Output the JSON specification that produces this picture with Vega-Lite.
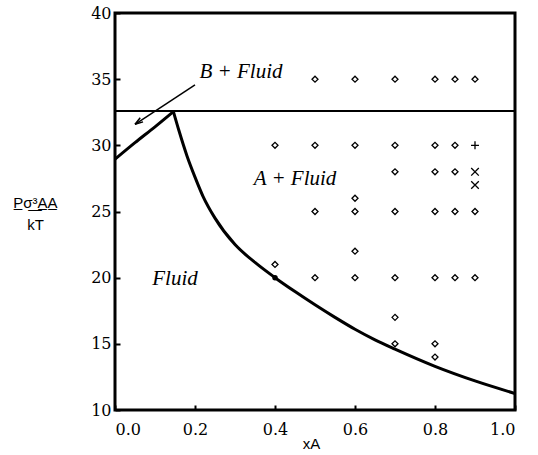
{
  "$schema": "https://vega.github.io/schema/vega-lite/v6.json",
  "width": 400,
  "height": 397,
  "autosize": {"type": "none"},
  "padding": {"left": 115, "top": 13, "right": 23, "bottom": 45},
  "background": "white",
  "config": {
    "view": {"stroke": "black", "strokeWidth": 3},
    "axis": {
      "grid": false,
      "domain": false,
      "labelFont": "DejaVu Serif",
      "labelFontSize": 16,
      "labelColor": "black",
      "tickColor": "black",
      "tickWidth": 2,
      "tickSize": -5,
      "titleColor": "black",
      "titleFontWeight": "normal"
    }
  },
  "datasets": {
    "curve": [
      {"x": 0.0, "y": 28.95, "seg": "left"},
      {"x": 0.05, "y": 30.2, "seg": "left"},
      {"x": 0.1, "y": 31.4, "seg": "left"},
      {"x": 0.146, "y": 32.55, "seg": "left"},
      {"x": 0.146, "y": 32.55, "seg": "right"},
      {"x": 0.16, "y": 31.1, "seg": "right"},
      {"x": 0.18, "y": 29.2, "seg": "right"},
      {"x": 0.2, "y": 27.6, "seg": "right"},
      {"x": 0.22, "y": 26.15, "seg": "right"},
      {"x": 0.25, "y": 24.5, "seg": "right"},
      {"x": 0.3, "y": 22.5, "seg": "right"},
      {"x": 0.35, "y": 21.15, "seg": "right"},
      {"x": 0.4, "y": 20.0, "seg": "right"},
      {"x": 0.45, "y": 18.95, "seg": "right"},
      {"x": 0.5, "y": 17.95, "seg": "right"},
      {"x": 0.55, "y": 17.0, "seg": "right"},
      {"x": 0.6, "y": 16.1, "seg": "right"},
      {"x": 0.65, "y": 15.3, "seg": "right"},
      {"x": 0.7, "y": 14.6, "seg": "right"},
      {"x": 0.8, "y": 13.3, "seg": "right"},
      {"x": 0.9, "y": 12.2, "seg": "right"},
      {"x": 1.0, "y": 11.25, "seg": "right"}
    ],
    "pts": [
      {"x": 0.5, "y": 35, "m": "diamond"},
      {"x": 0.6, "y": 35, "m": "diamond"},
      {"x": 0.7, "y": 35, "m": "diamond"},
      {"x": 0.8, "y": 35, "m": "diamond"},
      {"x": 0.85, "y": 35, "m": "diamond"},
      {"x": 0.9, "y": 35, "m": "diamond"},
      {"x": 0.4, "y": 30, "m": "diamond"},
      {"x": 0.5, "y": 30, "m": "diamond"},
      {"x": 0.6, "y": 30, "m": "diamond"},
      {"x": 0.7, "y": 30, "m": "diamond"},
      {"x": 0.8, "y": 30, "m": "diamond"},
      {"x": 0.85, "y": 30, "m": "diamond"},
      {"x": 0.9, "y": 30, "m": "plus"},
      {"x": 0.7, "y": 28, "m": "diamond"},
      {"x": 0.8, "y": 28, "m": "diamond"},
      {"x": 0.85, "y": 28, "m": "diamond"},
      {"x": 0.9, "y": 28, "m": "cross"},
      {"x": 0.9, "y": 27, "m": "cross"},
      {"x": 0.6, "y": 26, "m": "diamond"},
      {"x": 0.5, "y": 25, "m": "diamond"},
      {"x": 0.6, "y": 25, "m": "diamond"},
      {"x": 0.7, "y": 25, "m": "diamond"},
      {"x": 0.8, "y": 25, "m": "diamond"},
      {"x": 0.85, "y": 25, "m": "diamond"},
      {"x": 0.9, "y": 25, "m": "diamond"},
      {"x": 0.6, "y": 22, "m": "diamond"},
      {"x": 0.4, "y": 21, "m": "diamond"},
      {"x": 0.5, "y": 20, "m": "diamond"},
      {"x": 0.6, "y": 20, "m": "diamond"},
      {"x": 0.7, "y": 20, "m": "diamond"},
      {"x": 0.8, "y": 20, "m": "diamond"},
      {"x": 0.85, "y": 20, "m": "diamond"},
      {"x": 0.9, "y": 20, "m": "diamond"},
      {"x": 0.7, "y": 17, "m": "diamond"},
      {"x": 0.7, "y": 15, "m": "diamond"},
      {"x": 0.8, "y": 15, "m": "diamond"},
      {"x": 0.8, "y": 14, "m": "diamond"}
    ]
  },
  "layer": [
    {
      "data": {"name": "curve"},
      "mark": {"type": "line", "color": "black", "strokeWidth": 3, "interpolate": "monotone", "clip": true},
      "encoding": {
        "x": {
          "field": "x", "type": "quantitative",
          "scale": {"domain": [0, 1], "nice": false},
          "axis": {
            "values": [0, 0.2, 0.4, 0.6, 0.8, 1.0],
            "format": ".1f",
            "labelPadding": 16,
            "title": "xA",
            "titleFont": "Liberation Sans",
            "titleFontSize": 15,
            "titleX": 196,
            "titleY": 38,
            "titleBaseline": "alphabetic"
          }
        },
        "y": {
          "field": "y", "type": "quantitative",
          "scale": {"domain": [10, 40], "nice": false},
          "axis": {
            "values": [10, 15, 20, 25, 30, 35, 40],
            "labelPadding": 9,
            "title": ["P̲σ̲³̲A̲A̲", "kT"],
            "titleFont": "Liberation Sans",
            "titleFontSize": 15,
            "titleLineHeight": 22,
            "titleAngle": 0,
            "titleAlign": "center",
            "titleBaseline": "middle",
            "titleX": -80,
            "titleY": 189
          }
        },
        "detail": {"field": "seg"}
      }
    },
    {
      "data": {"values": [{"y": 32.6}]},
      "mark": {"type": "rule", "color": "black", "strokeWidth": 2},
      "encoding": {"y": {"field": "y", "type": "quantitative"}}
    },
    {
      "data": {"name": "pts"},
      "mark": {"type": "point", "filled": false, "color": "black", "strokeWidth": 1.3, "opacity": 1},
      "encoding": {
        "x": {"field": "x", "type": "quantitative"},
        "y": {"field": "y", "type": "quantitative"},
        "shape": {
          "field": "m", "type": "nominal", "legend": null,
          "scale": {"domain": ["diamond", "plus", "cross"], "range": ["diamond", "M-1,0L1,0M0,-1L0,1", "M-0.8,-0.8L0.8,0.8M0.8,-0.8L-0.8,0.8"]}
        },
        "size": {
          "field": "m", "type": "nominal", "legend": null,
          "scale": {"domain": ["diamond", "plus", "cross"], "range": [36, 90, 90]}
        }
      }
    },
    {
      "data": {"values": [{"x": 0.4, "y": 20}]},
      "mark": {"type": "point", "filled": true, "color": "black", "size": 30, "opacity": 1},
      "encoding": {
        "x": {"field": "x", "type": "quantitative"},
        "y": {"field": "y", "type": "quantitative"}
      }
    },
    {
      "data": {"values": [{"x": 0.2, "y": 34.56, "x2": 0.05, "y2": 31.59}]},
      "mark": {"type": "rule", "color": "black", "strokeWidth": 1.5},
      "encoding": {
        "x": {"field": "x", "type": "quantitative"},
        "y": {"field": "y", "type": "quantitative"},
        "x2": {"field": "x2"},
        "y2": {"field": "y2"}
      }
    },
    {
      "data": {"values": [{"x": 0.05, "y": 31.59}]},
      "mark": {"type": "point", "shape": "M0,0L-0.5,1.6M0,0L0.5,1.6", "angle": 236, "size": 100, "filled": false, "color": "black", "strokeWidth": 1.5, "opacity": 1},
      "encoding": {
        "x": {"field": "x", "type": "quantitative"},
        "y": {"field": "y", "type": "quantitative"}
      }
    },
    {
      "data": {"values": [
        {"x": 0.315, "y": 35.56, "t": "B + Fluid"},
        {"x": 0.45, "y": 27.45, "t": "A + Fluid"},
        {"x": 0.15, "y": 19.9, "t": "Fluid"}
      ]},
      "mark": {"type": "text", "font": "serif", "fontStyle": "italic", "fontSize": 21, "color": "black", "align": "center", "baseline": "middle"},
      "encoding": {
        "x": {"field": "x", "type": "quantitative"},
        "y": {"field": "y", "type": "quantitative"},
        "text": {"field": "t"}
      }
    }
  ]
}
